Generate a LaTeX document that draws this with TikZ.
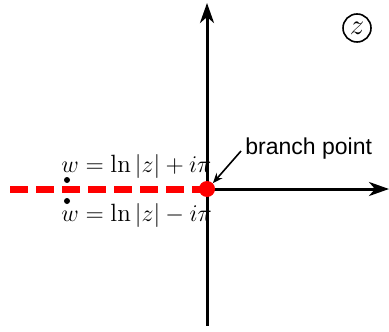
\documentclass[tikz,border=0pt]{standalone}
\usepackage{fontspec}
\usepackage{amsmath}
\newfontfamily\lab{Liberation Sans}
\usetikzlibrary{arrows.meta}
\begin{document}
\begin{tikzpicture}[x=0.5pt,y=-0.5pt,
  axis/.style={line width=1.5pt,-{Stealth[length=10pt,width=7pt,inset=3pt]}},
  cut/.style={red,line width=3.5pt,dash pattern=on 9pt off 4pt},
  dotb/.style={circle,fill=black,inner sep=0pt,minimum size=3pt},
  formula/.style={inner sep=0pt,font=\fontsize{12.5pt}{14pt}\selectfont}]
\useasboundingbox (0,0) rectangle (389,331);
\coordinate (O) at (207,189);
\coordinate (ytop) at (207,3);
\coordinate (ybot) at (207,326);
\coordinate (xr) at (389,189);
\coordinate (cl) at (10,189);
\draw[cut] (cl) -- (O);
\draw[line width=1.5pt] (O) -- (ybot);
\draw[axis] (O) -- (ytop);
\draw[axis] (O) -- (xr);
\node[circle,fill=red,inner sep=0pt,minimum size=8pt] (bp) at (O) {};
\node[dotb] (d1) at (67,180) {};
\node[dotb] (d2) at (67,201) {};
\node[formula,anchor=west] (up) at (61,166) {$w=\ln|z|+i\pi$};
\node[formula,anchor=west] (lo) at (61,215) {$w=\ln|z|-i\pi$};
\node[anchor=west,inner sep=0pt,font=\lab\fontsize{11.5pt}{13pt}\selectfont] (bl) at (245,149) {branch point};
\draw[line width=0.8pt,-{Stealth[length=5pt,width=4pt]}] (241,151) -- (bp.north east);
\node[circle,draw,line width=0.8pt,inner sep=0pt,minimum size=14pt,font=\Large] (zz) at (357,28) {$z$};
\end{tikzpicture}
\end{document}
